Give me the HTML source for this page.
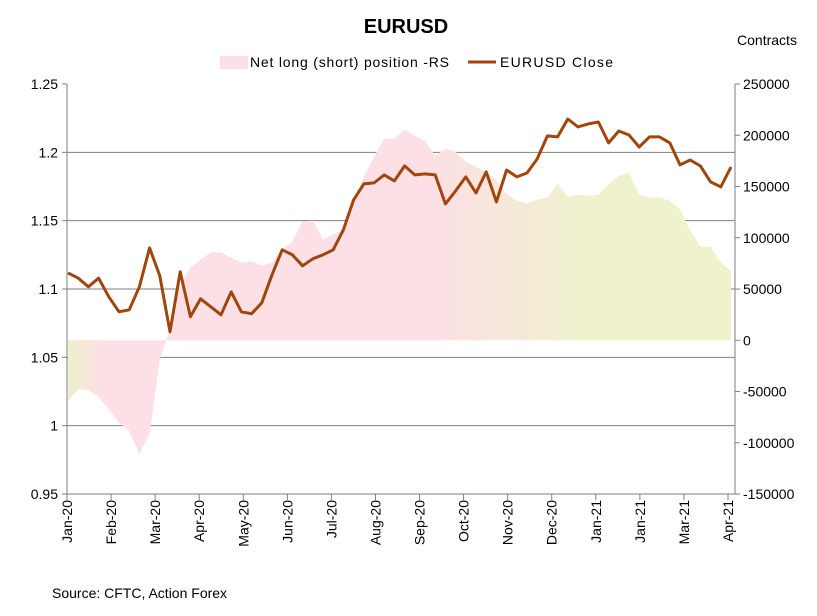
<!DOCTYPE html>
<html><head><meta charset="utf-8">
<style>
html,body{margin:0;padding:0;background:#fff;}
svg{display:block;font-family:"Liberation Sans",Arial,sans-serif;}
</style></head>
<body>
<svg id="chart" width="817" height="616" viewBox="0 0 817 616">
<defs>
<linearGradient id="areaGrad" x1="67" y1="0" x2="735" y2="0" gradientUnits="userSpaceOnUse">
<stop offset="0" stop-color="#eef0cc"/>
<stop offset="0.05" stop-color="#fce0e5"/>
<stop offset="0.55" stop-color="#fce0e5"/>
<stop offset="0.78" stop-color="#eff2cd"/>
<stop offset="1" stop-color="#eff2cd"/>
</linearGradient>
</defs>
<text x="406" y="33" text-anchor="middle" font-size="20" font-weight="bold">EURUSD</text>
<text x="767" y="45" text-anchor="middle" font-size="14">Contracts</text>
<g>
<rect x="220" y="56" width="28" height="13" fill="#fce0e5"/>
<text x="250" y="67" font-size="14" textLength="199" lengthAdjust="spacing">Net long (short) position -RS</text>
<line x1="468" y1="62" x2="496" y2="62" stroke="#a0460c" stroke-width="3"/>
<text x="500" y="67" font-size="14" textLength="113" lengthAdjust="spacing">EURUSD Close</text>
</g>
<g id="grid"></g>
<g id="area"></g>
<g id="axes"></g>
<g id="line"></g>
<text x="52" y="598" font-size="14">Source: CFTC, Action Forex</text>
</svg>
<script>
const xLabels=["Jan-20","Feb-20","Mar-20","Apr-20","May-20","Jun-20","Jul-20","Aug-20","Sep-20","Oct-20","Nov-20","Dec-20","Jan-21","Jan-21","Mar-21","Apr-21"];
const leftTicks=[0.95,1,1.05,1.1,1.15,1.2,1.25];
const rightTicks=[-150000,-100000,-50000,0,50000,100000,150000,200000,250000];
const closeValues=[1.1118,1.108,1.1016,1.108,1.0943,1.0833,1.0848,1.1016,1.1301,1.1096,1.0687,1.1126,1.0797,1.0928,1.087,1.0811,1.0979,1.0833,1.0819,1.0899,1.1104,1.1287,1.125,1.117,1.1221,1.125,1.1287,1.1433,1.1652,1.1769,1.1776,1.1835,1.1791,1.1901,1.1835,1.1842,1.1835,1.1623,1.1718,1.182,1.1703,1.1857,1.1637,1.1871,1.182,1.1849,1.1952,1.212,1.2113,1.2244,1.2186,1.2208,1.2222,1.2069,1.2156,1.2127,1.2039,1.2113,1.2113,1.2069,1.1908,1.1944,1.1901,1.1784,1.1747,1.1893];
const netLong=[-59300,-47700,-48600,-55400,-67100,-80700,-88500,-110900,-91400,-18500,10700,54500,71000,78800,85600,85600,80700,75900,76800,73000,75900,88500,96300,115800,116700,98300,103100,108000,134200,159500,179000,196500,196500,205300,199400,194600,180000,186800,183900,174100,169300,164400,155600,143000,136200,133300,137200,139100,152700,140100,142000,141100,142000,151800,160500,163400,142000,139100,139100,136200,127400,107000,91400,91400,75900,68100];

const L=67,R=735,T=84,B=494;
const yL=v=>B-(v-0.95)/(1.25-0.95)*(B-T);
const yR=v=>B-(v+150000)/400000*(B-T);
const n=closeValues.length;
const xW=i=>68+i*(731-68)/(n-1);
const xLab=i=>L+i*(728-L)/(xLabels.length-1);
const NS="http://www.w3.org/2000/svg";
function mk(tag,attrs,parent){const e=document.createElementNS(NS,tag);for(const k in attrs)e.setAttribute(k,attrs[k]);parent.appendChild(e);return e;}
const grid=document.getElementById('grid'),area=document.getElementById('area'),axes=document.getElementById('axes'),line=document.getElementById('line');

leftTicks.forEach(v=>{
  if(v>0.95&&v<1.25){const g=mk('line',{x1:L,x2:R,y1:yL(v),y2:yL(v),stroke:'#7f7f7f','stroke-width':1},grid);
  
  }
  const t=mk('line',{x1:L-5,x2:L,y1:yL(v),y2:yL(v),stroke:'#7f7f7f'},axes);
  
  
  const tx=mk('text',{x:L-9,y:yL(v)+5,'text-anchor':'end','font-size':14},axes);
  tx.textContent=String(v);
  
  
});
rightTicks.forEach(v=>{
  const t=mk('line',{x1:R,x2:R+5,y1:yR(v),y2:yR(v),stroke:'#7f7f7f'},axes);
  
  
  const tx=mk('text',{x:R+8,y:yR(v)+5,'text-anchor':'start','font-size':14},axes);
  tx.textContent=String(v);
  
  
});
xLabels.forEach((s,i)=>{
  const x=xLab(i);
  const t=mk('line',{x1:x,x2:x,y1:B,y2:B+6,stroke:'#7f7f7f'},axes);
  
  
  const tx=mk('text',{x:0,y:0,'text-anchor':'end','font-size':14,transform:`translate(${x+5},${B+6}) rotate(-90)`},axes);
  tx.textContent=s;
  
  
});
const ax1=mk('line',{x1:L,x2:L,y1:T,y2:B,stroke:'#7f7f7f'},axes);


const ax2=mk('line',{x1:R,x2:R,y1:T,y2:B,stroke:'#7f7f7f'},axes);


const ax3=mk('line',{x1:L,x2:R,y1:B,y2:B,stroke:'#7f7f7f'},axes);



let d=`M${xW(0)},${yR(0)}`;
netLong.forEach((v,i)=>{d+=` L${xW(i)},${yR(v)}`;});
d+=` L${xW(n-1)},${yR(0)} Z`;
const ap=mk('path',{d:d,fill:'url(#areaGrad)'},area);



const pts=closeValues.map((v,i)=>`${xW(i).toFixed(1)},${yL(v).toFixed(1)}`).join(' ');
const pl=mk('polyline',{points:pts,fill:'none',stroke:'#a0460c','stroke-width':3,'stroke-linejoin':'round'},line);


</script>
</body></html>
